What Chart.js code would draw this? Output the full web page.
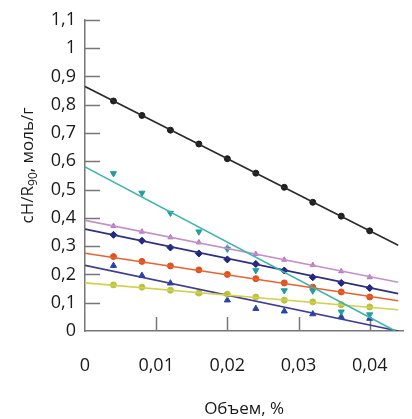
<!DOCTYPE html>
<html lang="ru">
<head>
<meta charset="UTF-8">
<title>cH/R90</title>
<script src="https://cdn.jsdelivr.net/npm/chart.js"></script>
<style>
    html, body { margin: 0; padding: 0; background: #fff; }
    #wrap { width: 412px; height: 419px; position: relative; }
</style>
</head>
<body>
<div id="wrap"><canvas id="chart"></canvas></div>
<script>
// объем, %
const xVals = [0.004, 0.008, 0.012, 0.016, 0.020, 0.024, 0.028, 0.032, 0.036, 0.040];

// точки по сериям
const black  = [0.813, 0.762, 0.710, 0.661, 0.609, 0.558, 0.508, 0.455, 0.406, 0.354];
const cyan   = [0.557, 0.488, 0.417, 0.351, 0.290, 0.214, 0.143, 0.142, 0.068, 0.058];
const purple = [0.371, 0.351, 0.331, 0.313, 0.295, 0.272, 0.252, 0.233, 0.211, 0.190];
const navy   = [0.340, 0.319, 0.295, 0.274, 0.253, 0.237, 0.214, 0.190, 0.170, 0.152];
const orange = [0.263, 0.246, 0.230, 0.216, 0.200, 0.185, 0.170, 0.155, 0.138, 0.120];
const yellow = [0.163, 0.155, 0.144, 0.134, 0.130, 0.120, 0.109, 0.103, 0.093, 0.085];
const blue   = [0.231, 0.196, 0.169, 0.135, 0.109, 0.079, 0.070, 0.060, 0.050, 0.044];

// линии аппроксимации (начало / конец)
const fitX       = [0, 0.044];
const blackFit   = [0.864, 0.303];
const cyanFitX   = [0, 0.0436];
const cyanFit    = [0.58, 0];
const purpleFit  = [0.391, 0.172];
const navyFit    = [0.360, 0.132];
const orangeFit  = [0.275, 0.107];
const yellowFit  = [0.170, 0.075];
const blueFit    = [0.232, 0];

const yTicks = [0, 0.1, 0.2, 0.3, 0.4, 0.5, 0.6, 0.7, 0.8, 0.9, 1, 1.1];
const xTicks = [0, 0.01, 0.02, 0.03, 0.04];

const pts = (ys) => ys.map((y, i) => ({ x: xVals[i], y: y }));
const fit = (xs, ys) => xs.map((x, i) => ({ x: x, y: ys[i] }));

function points(data, color, style, r, rot) {
    return {
        data: pts(data), showLine: false,
        pointStyle: style, pointRadius: r || 3, pointRotation: rot || 0,
        backgroundColor: color, borderColor: color, borderWidth: 1
    };
}
function line(xs, ys, color) {
    return {
        data: fit(xs, ys), showLine: true, pointRadius: 0,
        borderColor: color, borderWidth: 1.6
    };
}

// засечки внутрь области графика
const innerTicks = {
    id: 'innerTicks',
    beforeDatasetsDraw(chart) {
        const { ctx, chartArea, scales } = chart;
        ctx.save();
        ctx.strokeStyle = '#777';
        ctx.lineWidth = 1.5;
        ctx.beginPath();
        yTicks.forEach(v => {
            if (v === 0) return;
            const y = Math.round(scales.y.getPixelForValue(v)) + 0.5;
            ctx.moveTo(chartArea.left, y);
            ctx.lineTo(chartArea.left + 15, y);
        });
        xTicks.forEach(v => {
            if (v === 0) return;
            const x = Math.round(scales.x.getPixelForValue(v)) + 0.5;
            ctx.moveTo(x, chartArea.bottom);
            ctx.lineTo(x, chartArea.bottom - 14);
        });
        ctx.stroke();
        ctx.restore();
    }
};

// подпись оси Y с нижним индексом
const yTitle = {
    id: 'yTitle',
    afterDraw(chart) {
        const { ctx, chartArea } = chart;
        const parts = [
            { t: 'cH/R', size: 17, dy: 0 },
            { t: '90', size: 12, dy: 4 },
            { t: ', моль/г', size: 17, dy: 0 }
        ];
        ctx.save();
        let total = 0;
        parts.forEach(p => {
            ctx.font = p.size + 'px "Open Sans"';
            p.w = ctx.measureText(p.t).width;
            total += p.w;
        });
        const cy = (chartArea.top + chartArea.bottom) / 2 - 10;
        ctx.translate(33, cy);
        ctx.rotate(-Math.PI / 2);
        ctx.fillStyle = '#1a1a1a';
        ctx.textBaseline = 'alphabetic';
        ctx.textAlign = 'left';
        let x = -total / 2;
        parts.forEach(p => {
            ctx.font = p.size + 'px "Open Sans"';
            ctx.fillText(p.t, x, p.dy);
            x += p.w;
        });
        ctx.restore();
    }
};

const comma = (v, d) => v === 0 ? '0' : (+v.toFixed(d)).toString().replace('.', ',');

new Chart(document.getElementById('chart'), {
    type: 'scatter',
    data: {
        datasets: [
            line(fitX, blackFit, '#2b2b2b'),
            line(cyanFitX, cyanFit, '#3cb5ad'),
            line(fitX, purpleFit, '#c68fca'),
            line(fitX, navyFit, '#2e2e85'),
            line(fitX, orangeFit, '#e9622e'),
            line(fitX, yellowFit, '#d2d24c'),
            line(fitX, blueFit, '#3d3d98'),
            points(black, '#1e1e1e', 'circle', 3),
            points(cyan, '#1f9e9e', 'triangle', 3.5, 180),
            points(purple, '#b878c0', 'triangle', 3),
            points(navy, '#1c2380', 'rectRot', 3.5),
            points(orange, '#e0501e', 'circle', 3),
            points(yellow, '#b9c23e', 'circle', 3),
            points(blue, '#2744a6', 'triangle', 3.5)
        ]
    },
    options: {
        responsive: true,
        maintainAspectRatio: false,
        animation: false,
        layout: { padding: { top: 17, right: 5, left: 0, bottom: 0 } },
        plugins: { legend: { display: false }, tooltip: { enabled: false } },
        scales: {
            x: {
                type: 'linear', min: 0, max: 0.0447,
                afterFit: (s) => { s.height = 88; },
                afterBuildTicks: (s) => { s.ticks = xTicks.map(v => ({ value: v })); },
                grid: { display: false, drawTicks: false },
                border: { display: true, color: '#777', width: 1.5 },
                ticks: {
                    padding: 24, color: '#1a1a1a',
                    font: { family: 'Open Sans', size: 18 },
                    callback: (v) => comma(v, 2)
                },
                title: {
                    display: true, text: 'Объем, %', color: '#1a1a1a',
                    font: { family: 'Open Sans', size: 17 },
                    padding: { top: 0, bottom: 0 }
                }
            },
            y: {
                type: 'linear', min: 0, max: 1.1,
                afterFit: (s) => { s.width = 85; },
                afterBuildTicks: (s) => { s.ticks = yTicks.map(v => ({ value: v })); },
                grid: { display: false, drawTicks: false },
                border: { display: true, color: '#777', width: 1.5 },
                ticks: {
                    padding: 9, color: '#1a1a1a',
                    font: { family: 'Open Sans', size: 18 },
                    callback: (v) => comma(v, 1)
                },
                title: { display: false }
            }
        }
    },
    plugins: [innerTicks, yTitle]
});
</script>
</body>
</html>
